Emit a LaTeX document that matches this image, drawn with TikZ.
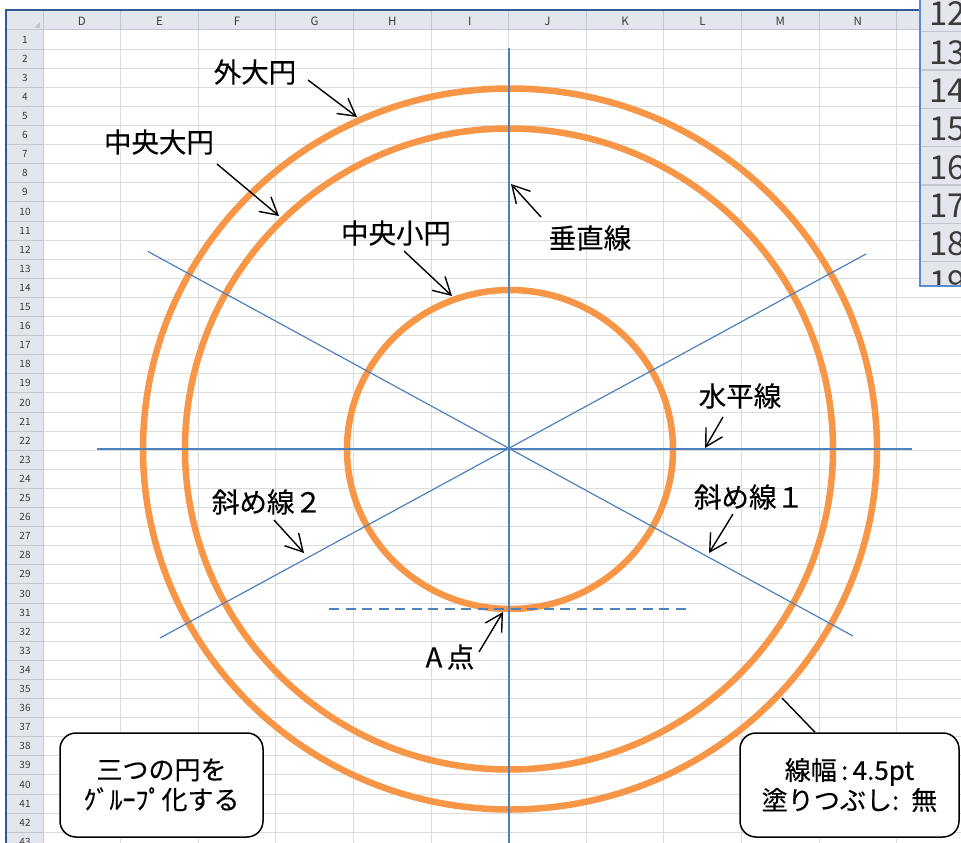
\documentclass[tikz,border=0pt]{standalone}
\usepackage{fontspec}
\newfontfamily\jp{Noto Sans CJK JP}
\newfontfamily\jpl[FakeBold=0.35]{Noto Sans CJK JP}
\usetikzlibrary{arrows.meta}
\definecolor{orng}{HTML}{F79646}
\definecolor{lblue}{HTML}{4F81BD}
\definecolor{gridc}{HTML}{DADCDD}
\definecolor{hdr}{HTML}{E3E7ED}
\definecolor{hdrline}{HTML}{C2C7CF}
\definecolor{winblue}{HTML}{2F5A95}
\definecolor{winblue2}{HTML}{5E8ACB}
\definecolor{hdrtxt}{HTML}{3A3A3A}
\begin{document}
\begin{tikzpicture}[x=1pt,y=-1pt,
  circ/.style={draw=orng, line width=6.5pt},
  guide/.style={draw=lblue, line width=1.2pt},
  lbl/.style={font=\jpl\fontsize{27.5}{30}\selectfont, inner sep=0pt},
  ptr/.style={draw=black, line width=1.4pt, -{Straight Barb[length=17pt,width=19pt]}},
  note/.style={draw=black, line width=1.5pt, fill=white, rounded corners=16pt,
    font=\jpl\fontsize{26}{30}\selectfont, align=center, inner sep=0pt},
  colhd/.style={font=\jp\fontsize{11.5}{12}\selectfont, text=hdrtxt, inner sep=0pt},
  rowhd/.style={font=\jp\fontsize{10}{11}\selectfont, text=hdrtxt, inner sep=0pt},
  bighd/.style={font=\jp\fontsize{33}{36}\selectfont, text=hdrtxt, inner sep=0pt, anchor=west}
]
\useasboundingbox (0,0) rectangle (961,843);
\fill[white] (0,0) rectangle (961,843);

% ---------- spreadsheet grid ----------
\foreach \i in {1,...,42} {
  \draw[gridc, line width=0.9pt] (43,{30+\i*19.1}) -- (961,{30+\i*19.1});
}
\foreach \k in {1,...,11} {
  \draw[gridc, line width=0.9pt] ({43+\k*77.6},30) -- ({43+\k*77.6},843);
}
% headers
\fill[hdr] (7,11) rectangle (961,30);
\fill[hdr] (7,30) rectangle (43,843);
\foreach \k in {1,...,11} {
  \draw[hdrline, line width=0.9pt] ({43+\k*77.6},11) -- ({43+\k*77.6},30);
}
\foreach \i in {1,...,42} {
  \draw[hdrline, line width=0.9pt] (7,{30+\i*19.1}) -- (43,{30+\i*19.1});
}
\draw[hdrline, line width=1pt] (7,30) -- (961,30);
\draw[hdrline, line width=1pt] (43,11) -- (43,843);
\fill[hdrline] (40,22) -- (40,28) -- (34,28) -- cycle;
\foreach \c [count=\k] in {D,E,F,G,H,I,J,K,L,M,N} {
  \node[colhd] (col\c) at ({43+(\k-0.5)*77.6},21) {\c};
}
\foreach \i in {1,...,43} {
  \node[rowhd] (row\i) at (25,{30+(\i-0.5)*19.1}) {\i};
}
\draw[winblue, line width=2pt] (6,843) -- (6,10) -- (961,10);

% ---------- circles ----------
\draw[circ] (510,449) ellipse [x radius=367, y radius=360.5];
\draw[circ] (509,449) ellipse [x radius=324, y radius=320.5];
\draw[circ] (510,449.5) ellipse [x radius=163, y radius=159.5];

% ---------- guide lines ----------
\coordinate (vTop) at (509,48);
\coordinate (vBot) at (509,843);
\coordinate (hL) at (97,449);
\coordinate (hR) at (912,449);
\coordinate (d1a) at (148,251.5);
\coordinate (d1b) at (853,636);
\coordinate (d2a) at (160,638);
\coordinate (d2b) at (866,254);
\coordinate (dashL) at (329,609);
\coordinate (dashR) at (688,609);
\draw[guide] (vTop) -- (vBot);
\draw[guide] (hL) -- (hR);
\draw[guide] (d1a) -- (d1b);
\draw[guide] (d2a) -- (d2b);
\draw[guide, dash pattern=on 10pt off 6.5pt] (dashL) -- (dashR);

% ---------- labels and pointers ----------
\node[lbl] (lOuter) at (255,72) {外大円};
\node[lbl] (lMid) at (159,142) {中央大円};
\node[lbl] (lSmall) at (396,233) {中央小円};
\node[lbl] (lVert) at (590,238) {垂直線};
\node[lbl] (lHor) at (740,396) {水平線};
\node[lbl] (lD1) at (749,497) {斜め線１};
\node[lbl] (lD2) at (267,502) {斜め線２};
\node[lbl] (lA) at (450,657) {A\,点};

\coordinate (sOuter) at (308,80);   \coordinate (tOuter) at (357,117);
\coordinate (sMid) at (217,164);    \coordinate (tMid) at (279,216);
\coordinate (sSmall) at (404,251);  \coordinate (tSmall) at (452,296);
\coordinate (sVert) at (541,217);   \coordinate (tVert) at (511,184);
\coordinate (sHor) at (723,417);    \coordinate (tHor) at (705,448);
\coordinate (sD1) at (733,514);     \coordinate (tD1) at (709,553);
\coordinate (sD2) at (274,520);     \coordinate (tD2) at (304,553);
\coordinate (sA) at (479,652);      \coordinate (tA) at (503,612);

\draw[ptr] (sOuter) -- (tOuter);
\draw[ptr] (sMid) -- (tMid);
\draw[ptr] (sSmall) -- (tSmall);
\draw[ptr] (sVert) -- (tVert);
\draw[ptr] (sHor) -- (tHor);
\draw[ptr] (sD1) -- (tD1);
\draw[ptr] (sD2) -- (tD2);
\draw[ptr] (sA) -- (tA);

% ---------- notes ----------
\coordinate (callTip) at (782,698);
\node[note, minimum width=203pt, minimum height=104pt] (noteL) at (161.5,785)
  {三つの円を\\ｸﾞﾙｰﾌﾟ化する};
\node[note, minimum width=219pt, minimum height=104pt] (noteR) at (849.5,785)
  {線幅\,:\,4.5pt\\塗りつぶし:\, 無};
\draw[black, line width=1.4pt] (noteR.north -| 815,0) -- (callTip);

% ---------- second window (zoomed row headers) ----------
\begin{scope}
  \clip (920,0) rectangle (961,286);
  \fill[hdr] (920,0) rectangle (961,286);
  \foreach \k in {0,...,6} {
    \draw[hdrline, line width=1.2pt] (920,{31.7+\k*38.3}) -- (961,{31.7+\k*38.3});
  }
  \node[bighd] (big12) at (929,14) {12};
  \foreach \n [count=\k] in {13,...,19} {
    \node[bighd] (big\n) at (929,{31.7+(\k-1)*38.3+21}) {\n};
  }
\end{scope}
\draw[winblue2, line width=1.6pt] (920,0) -- (920,286) -- (961,286);
\end{tikzpicture}
\end{document}
